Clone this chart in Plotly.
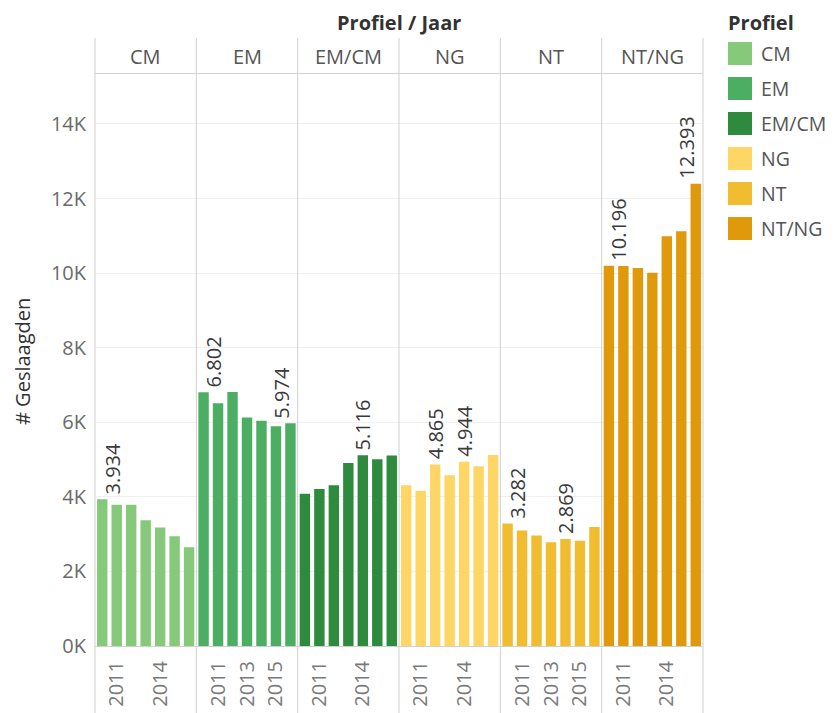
import plotly.graph_objects as go

# ---------------- data ----------------
years = [2010, 2011, 2012, 2013, 2014, 2015, 2016]
profiles = ["CM", "EM", "EM/CM", "NG", "NT", "NT/NG"]
cm = [3934, 3790, 3790, 3370, 3180, 2940, 2650]
em = [6802, 6510, 6810, 6130, 6040, 5890, 5974]
em_cm = [4080, 4210, 4310, 4910, 5116, 5010, 5110]
ng = [4310, 4160, 4865, 4580, 4944, 4820, 5120]
nt = [3282, 3100, 2960, 2780, 2869, 2825, 3190]
nt_ng = [10196, 10190, 10140, 10010, 10990, 11120, 12393]
series = [cm, em, em_cm, ng, nt, nt_ng]
colors = ["#86c97b", "#4cae62", "#2e8b3e", "#fdd665", "#f1bc2f", "#e0990b"]
tick_years = [[2011, 2014], [2011, 2013, 2015], [2011, 2014],
              [2011, 2014], [2011, 2013, 2015], [2011, 2014]]
label_years = [[2010], [2010, 2016], [2014], [2012, 2014], [2010, 2014], [2010, 2016]]
y_ticks = [0, 2000, 4000, 6000, 8000, 10000, 12000, 14000]
y_tick_text = ["0K", "2K", "4K", "6K", "8K", "10K", "12K", "14K"]

# ---------------- layout geometry (pixels) ----------------
W, H = 835, 713
L, R, T, B = 95, 703, 74, 646          # plot area in pixels
PW, PH = R - L, B - T
PX_PER_UNIT = 37.29 / 1000.0
y_top = PH / PX_PER_UNIT

def px(x):
    return (x - L) / PW

def py(y):
    return (B - y) / PH

FONT = "Open Sans"
n = len(profiles)
fig = go.Figure()
annotations = []
shapes = []

for i, (name, vals, col) in enumerate(zip(profiles, series, colors)):
    xa = "x" if i == 0 else f"x{i+1}"
    fig.add_trace(go.Bar(x=years, y=vals, name=name, marker=dict(color=col, line=dict(width=0)),
                         xaxis=xa, yaxis="y", showlegend=False,
                         hovertemplate=name + " %{x}: %{y}<extra></extra>"))
    axname = "xaxis" if i == 0 else f"xaxis{i+1}"
    fig.layout[axname] = dict(
        domain=[i / n, (i + 1) / n], anchor="y", range=[years[0] - 0.5, years[-1] + 0.5],
        tickmode="array", tickvals=tick_years[i], ticktext=[str(t) for t in tick_years[i]],
        tickangle=-90, tickfont=dict(family=FONT, size=20, color="#7a7a7a"),
        showgrid=False, zeroline=False, showline=True, linecolor="#d0d0d0", linewidth=1,
        ticks="", ticklabelstandoff=6, fixedrange=True, automargin=False,
    )
    # panel header label
    annotations.append(dict(x=(i + 0.5) / n, y=py(57), xref="paper", yref="paper",
                            text=name, showarrow=False, xanchor="center", yanchor="middle",
                            font=dict(family=FONT, size=20, color="#555555")))
    # data labels
    for yr in label_years[i]:
        v = vals[years.index(yr)]
        shift = 0
        if yr == years[0]:
            shift = 10
        elif yr == years[-1]:
            shift = -9
        annotations.append(dict(x=yr, y=v, xref=xa, yref="y", text=f"{v:,}".replace(",", "."),
                                showarrow=False, textangle=-90, yanchor="bottom", xanchor="center",
                                xshift=shift, yshift=3,
                                font=dict(family=FONT, size=20, color="#3a3a3a")))
    # legend entries
    top = 42 + 35 * i
    shapes.append(dict(type="rect", xref="paper", yref="paper",
                       x0=px(728), x1=px(752), y0=py(top), y1=py(top + 23),
                       fillcolor=col, line=dict(width=0)))
    annotations.append(dict(x=px(759), y=py(top + 11.5), xref="paper", yref="paper",
                            text=name, showarrow=False, xanchor="left", yanchor="middle",
                            font=dict(family=FONT, size=19.5, color="#555555")))

# panel dividers
for i in range(n + 1):
    xp = i / n
    shapes.append(dict(type="line", xref="paper", yref="paper", x0=xp, x1=xp,
                       y0=py(38), y1=py(713), line=dict(color="#d0d0d0", width=1)))
# header separator
shapes.append(dict(type="line", xref="paper", yref="paper", x0=0, x1=1,
                   y0=py(73.5), y1=py(73.5), line=dict(color="#d0d0d0", width=1)))

# titles
annotations.append(dict(x=0.5, y=py(22), xref="paper", yref="paper", text="<b>Profiel / Jaar</b>",
                        showarrow=False, xanchor="center", yanchor="middle",
                        font=dict(family=FONT, size=20, color="#333333")))
annotations.append(dict(x=px(22), y=py(362), xref="paper", yref="paper", text="# Geslaagden",
                        showarrow=False, textangle=-90, xanchor="center", yanchor="middle",
                        font=dict(family=FONT, size=20, color="#333333")))
annotations.append(dict(x=px(726), y=py(22), xref="paper", yref="paper", text="<b>Profiel</b>",
                        showarrow=False, xanchor="left", yanchor="middle",
                        font=dict(family=FONT, size=20, color="#333333")))

fig.update_layout(
    width=W, height=H,
    margin=dict(l=L, r=W - R, t=T, b=H - B, pad=0, autoexpand=False),
    paper_bgcolor="white", plot_bgcolor="white",
    bargap=0.28,
    yaxis=dict(range=[0, y_top], tickmode="array", tickvals=y_ticks, ticktext=y_tick_text,
               tickfont=dict(family=FONT, size=20, color="#6a6a6a"),
               showgrid=True, gridcolor="#f0f0f0", gridwidth=1, zeroline=False, showline=False,
               ticks="", ticklabelstandoff=8, anchor="x", fixedrange=True, automargin=False),
    annotations=annotations, shapes=shapes,
    font=dict(family=FONT),
)

fig.write_html("out.html", config={"displayModeBar": False},
               post_script="document.body.style.margin='0px';")
